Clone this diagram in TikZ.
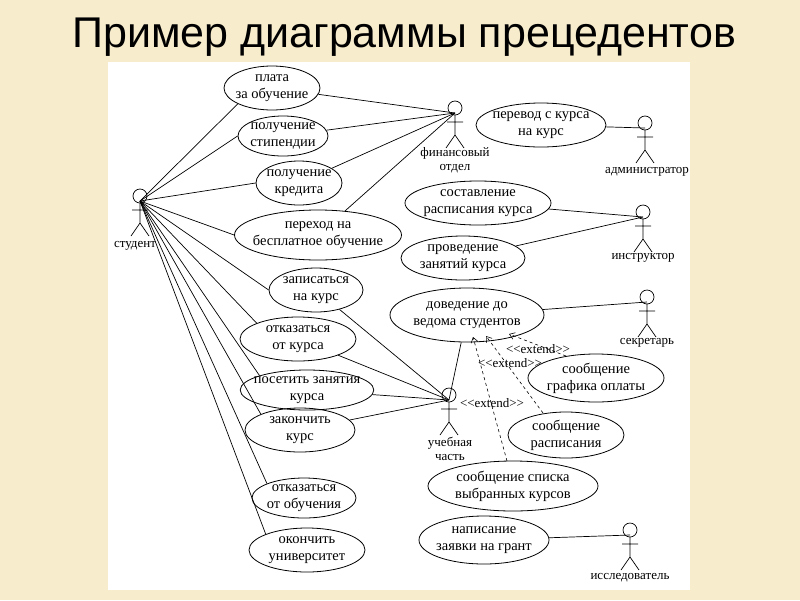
\documentclass[tikz,border=0pt]{standalone}
\usepackage{fontspec}
\setmainfont{Liberation Serif}[Ligatures=NoCommon]
\newfontfamily\titlefont{Liberation Sans}
\usetikzlibrary{shapes.geometric,arrows.meta}
\begin{document}
\begin{tikzpicture}[x=1pt,y=-1pt,
  uc/.style={draw,ellipse,inner sep=-6pt,align=center,font=\fontsize{14.5}{17}\selectfont,line width=0.8pt},
  lab/.style={font=\fontsize{13}{14}\selectfont,align=center,inner sep=0pt},
  ln/.style={line width=0.7pt},
  ext/.style={dashed,line width=0.6pt,-{Straight Barb[length=5pt,width=7pt]}},
  extlab/.style={font=\fontsize{13}{14}\selectfont,inner sep=0pt}]
\fill[fill={rgb,255:red,247;green,237;blue,205}] (0,0) rectangle (800,600);
\useasboundingbox (0,0) rectangle (800,600);
\fill[white] (108,62) rectangle (690,590);
\node[font=\titlefont\fontsize{43}{46}\selectfont] (title) at (404,37) {Пример диаграммы прецедентов};
\newcommand\actor[3]{%
  \draw[line width=0.7pt] (#2,#3) circle (7);
  \draw[line width=0.7pt] (#2,#3+7) -- (#2,#3+27) (#2-8,#3+14) -- (#2+8,#3+14)
    (#2-9,#3+40) -- (#2,#3+27) -- (#2+9,#3+40);
  \coordinate (#1) at (#2,#3+5);}
\actor{stud}{140}{196}
\actor{fin}{455}{108}
\actor{adm}{645}{123}
\actor{ins}{643}{212}
\actor{sec}{647}{297}
\actor{uch}{449}{395}
\actor{res}{630}{530}
\node[lab] (lstud) at (135,246) {студент};
\node[lab] (lfin) at (455,160) {финансовый\\отдел};
\node[lab] (ladm) at (647,172) {администратор};
\node[lab] (lins) at (643,258) {инструктор};
\node[lab] (lsec) at (647,343) {секретарь};
\node[lab] (luch) at (450,449) {учебная\\часть};
\node[lab] (lres) at (630,578) {исследователь};
\node[uc,minimum width=96,minimum height=44] (u1) at (272,88) {плата\\за обучение};
\node[uc,minimum width=90,minimum height=40] (u2) at (283,136) {получение\\стипендии};
\node[uc,minimum width=86,minimum height=44] (u3) at (299,183) {получение\\кредита};
\node[uc,minimum width=156,minimum height=50] (u4) at (318,235) {переход на\\бесплатное обучение};
\node[uc,minimum width=94,minimum height=44] (u5) at (316,290) {записаться\\на курс};
\node[uc,minimum width=116,minimum height=44] (u6) at (298,339) {отказаться\\от курса};
\node[uc,minimum width=130,minimum height=40] (u7) at (307,390) {посетить занятия\\курса};
\node[uc,minimum width=110,minimum height=44] (u8) at (300,430) {закончить\\курс};
\node[uc,minimum width=104,minimum height=40] (u9) at (304,498) {отказаться\\от обучения};
\node[uc,minimum width=116,minimum height=44] (u10) at (307,550) {окончить\\университет};
\node[uc,minimum width=130,minimum height=44] (v1) at (541,125) {перевод с курса\\на курс};
\node[uc,minimum width=146,minimum height=44] (v2) at (478,203) {составление\\расписания курса};
\node[uc,minimum width=124,minimum height=44] (v3) at (463,258) {проведение\\занятий курса};
\node[uc,minimum width=154,minimum height=54] (v4) at (467,315) {доведение до\\ведома студентов};
\node[uc,minimum width=136,minimum height=48] (v5) at (596,378) {сообщение\\графика оплаты};
\node[uc,minimum width=116,minimum height=46] (v6) at (566,435) {сообщение\\расписания};
\node[uc,minimum width=170,minimum height=50] (v7) at (513,486) {сообщение списка\\выбранных курсов};
\node[uc,minimum width=130,minimum height=48] (v8) at (484,540) {написание\\заявки на грант};
\draw[ln] (stud) -- (u1.south west);
\draw[ln] (stud) -- (u2.west);
\draw[ln] (stud) -- (u3.west);
\draw[ln] (stud) -- (u4.west);
\draw[ln] (stud) -- (u5.west);
\draw[ln] (stud) -- (u6.north west);
\draw[ln] (stud) -- (u7.north west);
\draw[ln] (stud) -- (u8.north west);
\draw[ln] (stud) -- (u9.north west);
\draw[ln] (stud) -- (u10.north west);
\foreach \u in {u1,u2,u3,u4}
  \draw[ln] (fin) -- (\u);
\foreach \u in {u5,u6,u7,u8,v4}
  \draw[ln] (uch) -- (\u);
\draw[ln] (adm) -- (v1);
\draw[ln] (ins) -- (v2);
\draw[ln] (ins) -- (v3);
\draw[ln] (sec) -- (v4);
\draw[ln] (res) -- (v8);
\coordinate (e5) at (566,356);
\coordinate (e6) at (543,413);
\coordinate (e7) at (507,461);
\draw[ext] (e5) -- (509,334);
\draw[ext] (e6) -- (486,336);
\draw[ext] (e7) -- (473,337);
\node[extlab] (x1) at (538,349) {{<}{<}extend{>}{>}};
\node[extlab] (x2) at (510,363) {{<}{<}extend{>}{>}};
\node[extlab] (x3) at (492,403) {{<}{<}extend{>}{>}};
\end{tikzpicture}
\end{document}
